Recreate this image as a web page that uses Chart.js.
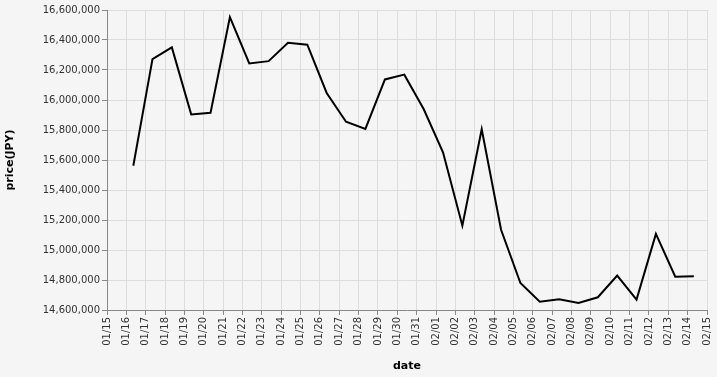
<!DOCTYPE html>
<html>
<head>
<meta charset="utf-8">
<script src="https://cdn.jsdelivr.net/npm/chart.js@4/dist/chart.umd.min.js"></script>
<style>
html,body{margin:0;padding:0;background:#f5f5f5;}
#wrap{width:717px;height:377px;}
</style>
</head>
<body>
<div id="wrap"><canvas id="c" width="717" height="377"></canvas></div>
<script>
// tick labels for the date axis (day index 0 = 01/15)
const dateLabels = ["01/15","01/16","01/17","01/18","01/19","01/20","01/21","01/22","01/23","01/24","01/25","01/26","01/27","01/28","01/29","01/30","01/31","02/01","02/02","02/03","02/04","02/05","02/06","02/07","02/08","02/09","02/10","02/11","02/12","02/13","02/14","02/15"];
// sample times in days since 01/15 00:00
const sampleDays = [1.36,2.35,3.35,4.35,5.35,6.35,7.35,8.35,9.35,10.35,11.35,12.35,13.35,14.36,15.36,16.36,17.36,18.36,19.36,20.36,21.36,22.36,23.36,24.36,25.36,26.36,27.36,28.36,29.36,30.32];
const prices = [15562000,16273000,16351000,15904000,15915000,16553000,16244000,16259000,16382000,16369000,16047000,15855000,15807000,16137000,16169000,15940000,15651000,15162000,15805000,15135000,14780000,14655000,14672000,14647000,14685000,14829000,14669000,15107000,14822000,14825000];

const points = sampleDays.map((d, i) => ({x: d, y: prices[i]}));

new Chart(document.getElementById('c'), {
  type: 'line',
  data: {
    datasets: [{
      data: points,
      borderColor: '#000',
      borderWidth: 2,
      pointRadius: 0,
      tension: 0,
      fill: false
    }]
  },
  options: {
    responsive: false,
    animation: false,
    layout: {padding: {top: 10, right: 10, left: 0, bottom: 0}},
    plugins: {legend: {display: false}, tooltip: {enabled: false}},
    scales: {
      x: {
        type: 'linear',
        min: 0, max: 31,
        afterFit: s => { s.height = 67; s.paddingRight = 0; s.paddingLeft = 0; },
        ticks: {
          stepSize: 1,
          autoSkip: false,
          minRotation: 90, maxRotation: 90,
          padding: 2,
          color: '#333',
          font: {family: 'DejaVu Sans', size: 10},
          callback: v => dateLabels[v]
        },
        grid: {color: '#dddddd', tickColor: '#888', tickLength: 5, lineWidth: 1},
        border: {color: '#888'},
        title: {display: true, text: 'date', color: '#000', font: {family: 'DejaVu Sans', size: 11, weight: 'bold'}}
      },
      y: {
        min: 14600000, max: 16600000,
        afterFit: s => { s.width = 107; s.paddingTop = 0; s.paddingBottom = 0; },
        ticks: {
          stepSize: 200000,
          padding: 2,
          color: '#333',
          font: {family: 'DejaVu Sans', size: 10},
          callback: v => v.toLocaleString('en-US')
        },
        grid: {color: '#dddddd', tickColor: '#888', tickLength: 5, lineWidth: 1},
        border: {color: '#888'},
        title: {display: true, text: 'price(JPY)', color: '#000', font: {family: 'DejaVu Sans', size: 11, weight: 'bold'}}
      }
    }
  },
  plugins: [{
    id: 'bg',
    beforeDraw: c => { const x = c.ctx; x.save(); x.fillStyle = '#f5f5f5'; x.fillRect(0,0,c.width,c.height); x.restore(); }
  }]
});
</script>
</body>
</html>
